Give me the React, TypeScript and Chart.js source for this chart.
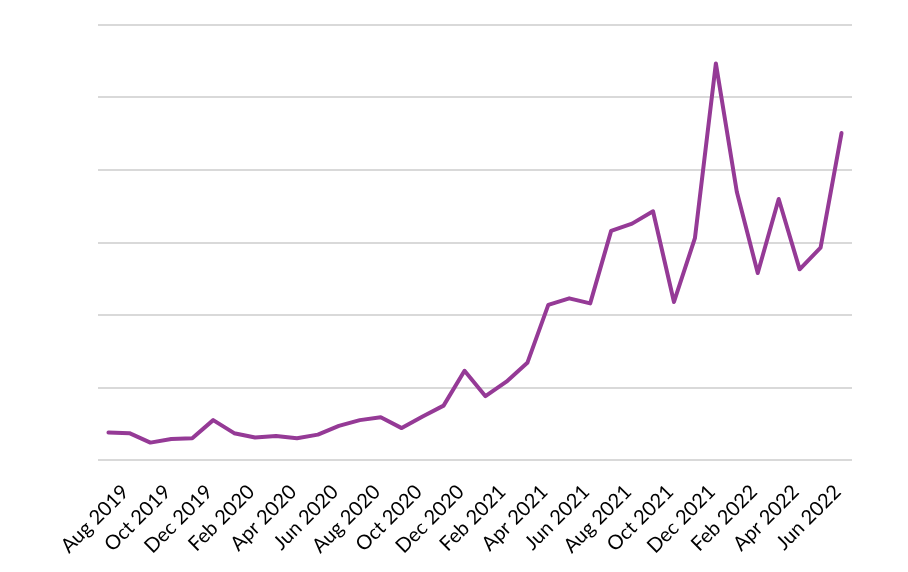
import { useEffect, useRef } from 'react';
import { Chart, registerables } from 'chart.js';

Chart.register(...registerables);

const months = [
	'Aug 2019', 'Sep 2019', 'Oct 2019', 'Nov 2019', 'Dec 2019',
	'Jan 2020', 'Feb 2020', 'Mar 2020', 'Apr 2020', 'May 2020', 'Jun 2020',
	'Jul 2020', 'Aug 2020', 'Sep 2020', 'Oct 2020', 'Nov 2020', 'Dec 2020',
	'Jan 2021', 'Feb 2021', 'Mar 2021', 'Apr 2021', 'May 2021', 'Jun 2021',
	'Jul 2021', 'Aug 2021', 'Sep 2021', 'Oct 2021', 'Nov 2021', 'Dec 2021',
	'Jan 2022', 'Feb 2022', 'Mar 2022', 'Apr 2022', 'May 2022', 'Jun 2022',
	'Jul 2022',
];

const values = [
	3.8, 3.7, 2.4, 2.9, 3.0, 5.5, 3.7, 3.1, 3.3, 3.0, 3.5, 4.7,
	5.5, 5.9, 4.4, 6.0, 7.5, 12.3, 8.8, 10.8, 13.4, 21.4, 22.3, 21.6,
	31.6, 32.6, 34.3, 21.8, 30.6, 54.7, 37.0, 25.8, 36.0, 26.3, 29.3, 45.1,
];

const yTicks = [0, 10, 20, 30, 40, 50, 60];

const App = () => {
	const chartRef = useRef<HTMLCanvasElement>(null);
	const chartInstanceRef = useRef<Chart | null>(null);

	useEffect(() => {
		if (!chartRef.current) return;
		if (chartInstanceRef.current) chartInstanceRef.current.destroy();

		chartInstanceRef.current = new Chart(chartRef.current, {
			type: 'line',
			data: {
				labels: months,
				datasets: [
					{
						data: values,
						borderColor: '#953a96',
						borderWidth: 4,
						borderJoinStyle: 'round',
						borderCapStyle: 'round',
						pointRadius: 0,
						tension: 0,
						fill: false,
					},
				],
			},
			options: {
				animation: false,
				responsive: true,
				maintainAspectRatio: false,
				layout: { padding: { left: 98, right: 56, top: 25, bottom: 0 } },
				plugins: {
					legend: { display: false },
					tooltip: { enabled: false },
				},
				scales: {
					x: {
						offset: true,
						grid: { display: false, drawTicks: false },
						border: { display: false },
						afterFit: (scale: any) => {
							scale.height = 112;
						},
						ticks: {
							autoSkip: false,
							minRotation: 45,
							maxRotation: 45,
							labelOffset: 17,
							padding: 20,
							color: '#000000',
							font: { family: 'Lato', size: 20 },
							callback: (_v: any, i: number) => (i % 2 === 0 ? months[i] : ''),
						},
					},
					y: {
						min: yTicks[0],
						max: yTicks[yTicks.length - 1],
						afterBuildTicks: (scale: any) => {
							scale.ticks = yTicks.map((v) => ({ value: v }));
						},
						afterFit: (scale: any) => {
							scale.width = 0;
						},
						grid: { color: '#d9d9d9', lineWidth: 2, drawTicks: false },
						border: { display: false },
						ticks: { display: false },
					},
				},
			},
		});

		return () => {
			if (chartInstanceRef.current) {
				chartInstanceRef.current.destroy();
				chartInstanceRef.current = null;
			}
		};
	}, []);

	return (
		<div style={{ position: 'absolute', left: 0, top: 0, width: 908, height: 572, background: '#ffffff' }}>
			<canvas ref={chartRef} />
		</div>
	);
};

export default App;
